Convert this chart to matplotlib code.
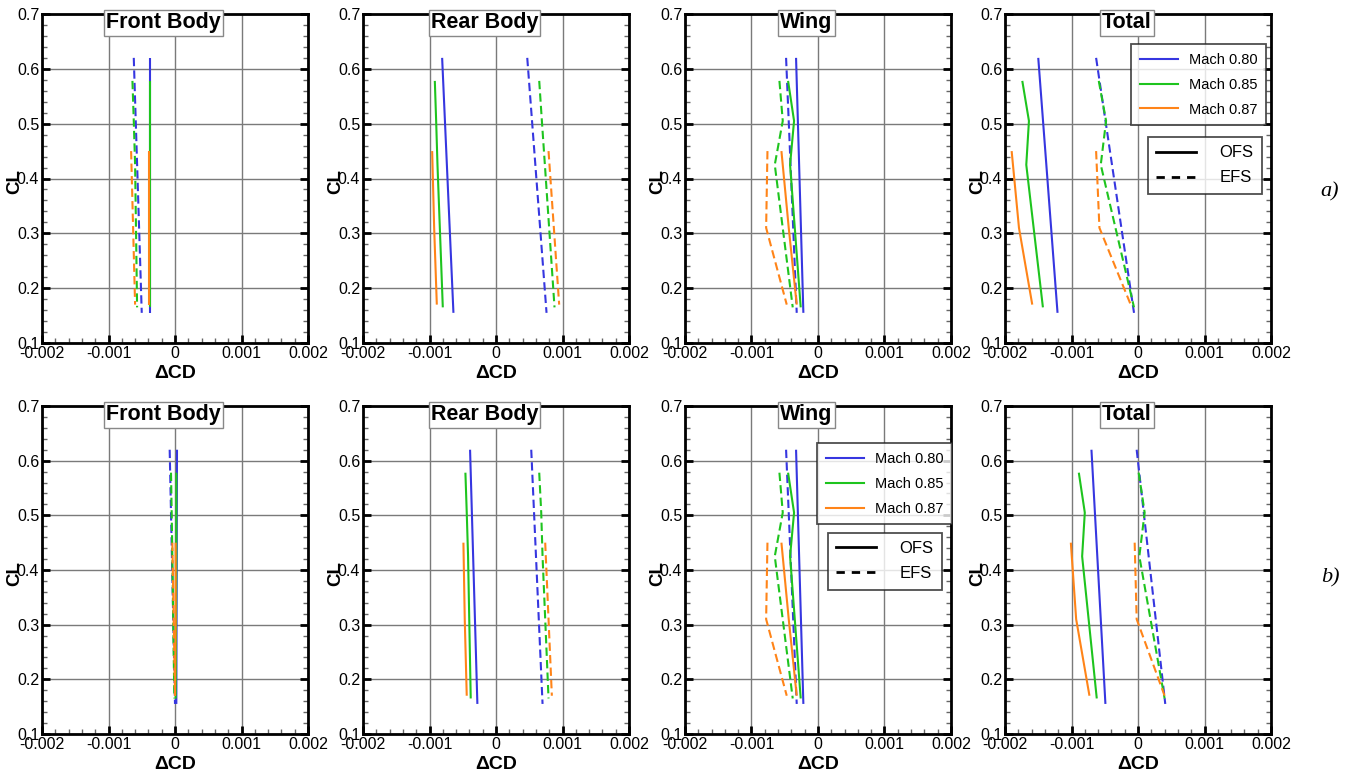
import matplotlib
matplotlib.use("Agg")
import matplotlib.pyplot as plt
from matplotlib.lines import Line2D
from matplotlib.ticker import MultipleLocator

plt.rcParams['font.family'] = ['Liberation Sans', 'DejaVu Sans']

# ---------------- data ----------------
MACH_LABELS = ["Mach 0.80", "Mach 0.85", "Mach 0.87"]
COLORS = ["#3636e0", "#1ec41e", "#ff8418"]
CL_M080 = [0.62, 0.155]
CL_M085 = [0.578, 0.505, 0.425, 0.165]
CL_M087 = [0.45, 0.31, 0.17]
CL_SETS = [CL_M080, CL_M085, CL_M087]

PANEL_TITLES = ["Front Body", "Rear Body", "Wing", "Total"]
ROW_TAGS = ["a)", "b)"]
XTICKS = [-0.002, -0.001, 0.0, 0.001, 0.002]
XTICK_LABELS = ["-0.002", "-0.001", "0", "0.001", "0.002"]
YTICKS = [0.1, 0.2, 0.3, 0.4, 0.5, 0.6, 0.7]
YTICK_LABELS = ["0.1", "0.2", "0.3", "0.4", "0.5", "0.6", "0.7"]

# Row a) -- each tuple: (Mach 0.80, Mach 0.85, Mach 0.87) dCD values
A_FRONT_OFS = ([-0.00037, -0.00037], [-0.00038, -0.00038, -0.00038, -0.00038], [-0.00039, -0.00039, -0.00039])
A_FRONT_EFS = ([-0.00062, -0.0005], [-0.00064, -0.00062, -0.0006, -0.00057], [-0.00066, -0.00063, -0.0006])
A_REAR_OFS = ([-0.00081, -0.00064], [-0.00092, -0.0009, -0.00088, -0.0008], [-0.00096, -0.00093, -0.00089])
A_REAR_EFS = ([0.00047, 0.00076], [0.00065, 0.00069, 0.000735, 0.00088], [0.00079, 0.00087, 0.00095])
A_WING_OFS = ([-0.00033, -0.00022], [-0.00045, -0.00036, -0.00042, -0.00026], [-0.00055, -0.00044, -0.00032])
A_WING_EFS = ([-0.00048, -0.00032], [-0.00058, -0.00053, -0.00065, -0.00038], [-0.00076, -0.00078, -0.00047])
A_TOTAL_OFS = ([-0.0015, -0.00121], [-0.00174, -0.00164, -0.00168, -0.00143], [-0.0019, -0.00179, -0.00159])
A_TOTAL_EFS = ([-0.00063, -0.00006], [-0.00059, -0.00048, -0.00056, -0.00006], [-0.00063, -0.00058, -0.00011])

# Row b)
B_FRONT_OFS = ([0.00003, 0.00002], [0.00002, 0.00002, 0.00002, 0.00001], [0.00001, 0.00001, 0.0])
B_FRONT_EFS = ([-0.00008, 0.0], [-0.00006, -0.00005, -0.00004, -0.00001], [-0.00004, -0.00002, 0.0])
B_REAR_OFS = ([-0.00039, -0.00028], [-0.00046, -0.00044, -0.00042, -0.00038], [-0.00049, -0.00047, -0.00044])
B_REAR_EFS = ([0.00053, 0.0007], [0.00065, 0.00068, 0.0007, 0.00079], [0.00074, 0.00079, 0.00084])
B_WING_OFS = ([-0.00033, -0.00022], [-0.00045, -0.00036, -0.00042, -0.00026], [-0.00055, -0.00044, -0.00032])
B_WING_EFS = ([-0.00048, -0.00032], [-0.00058, -0.00053, -0.00065, -0.00038], [-0.00076, -0.00078, -0.00047])
B_TOTAL_OFS = ([-0.0007, -0.00049], [-0.00089, -0.0008, -0.00084, -0.00062], [-0.00101, -0.00093, -0.00073])
B_TOTAL_EFS = ([-0.00002, 0.00041], [0.00001, 0.0001, 0.00002, 0.0004], [-0.00005, -0.00002, 0.0004])

ROWS = [
    [(A_FRONT_OFS, A_FRONT_EFS), (A_REAR_OFS, A_REAR_EFS), (A_WING_OFS, A_WING_EFS), (A_TOTAL_OFS, A_TOTAL_EFS)],
    [(B_FRONT_OFS, B_FRONT_EFS), (B_REAR_OFS, B_REAR_EFS), (B_WING_OFS, B_WING_EFS), (B_TOTAL_OFS, B_TOTAL_EFS)],
]

# ---------------- layout ----------------
W, H = 1359, 776
fig = plt.figure(figsize=(W / 100, H / 100), dpi=100)
lefts_px = [42, 363, 685, 1005]
width_px = 266
rows_px = [(14, 343), (406, 734)]
DASH = (0, (4, 2))

axes = []
for r, (top, bot) in enumerate(rows_px):
    row_axes = []
    for c, lpx in enumerate(lefts_px):
        ax = fig.add_axes([lpx / W, (H - bot) / H, width_px / W, (bot - top) / H])
        ax.set_xlim(-0.002, 0.002)
        ax.set_ylim(0.1, 0.7)
        ax.set_xticks(XTICKS)
        ax.set_xticklabels(XTICK_LABELS)
        ax.set_yticks(YTICKS)
        ax.set_yticklabels(YTICK_LABELS)
        ax.xaxis.set_minor_locator(MultipleLocator(0.0002))
        ax.yaxis.set_minor_locator(MultipleLocator(0.02))
        ax.tick_params(which='both', direction='in', left=True, right=True, top=False, bottom=True,
                       labelsize=11.5, pad=2)
        ax.tick_params(which='major', length=6, width=2, color='black')
        ax.tick_params(which='minor', length=3.5, width=1, color='#666666')
        for s in ax.spines.values():
            s.set_linewidth(2)
        ax.grid(True, which='major', color='#7a7a7a', lw=1)
        ax.set_axisbelow(True)

        ofs, efs = ROWS[r][c]
        for k in range(3):
            ax.plot(ofs[k], CL_SETS[k], color=COLORS[k], lw=1.5, solid_capstyle='butt')
            ax.plot(efs[k], CL_SETS[k], color=COLORS[k], lw=1.5, linestyle=DASH)

        ax.set_xlabel("ΔCD", fontsize=14, fontweight='bold')
        ax.xaxis.set_label_coords(0.5, -0.066)
        ax.set_ylabel("CL", fontsize=13.5, fontweight='bold')
        ax.yaxis.set_label_coords(-0.072, 0.49)

        ax.text(0.457, 0.973, PANEL_TITLES[c], transform=ax.transAxes, ha='center', va='center',
                fontsize=15.5, fontweight='bold', zorder=10,
                bbox=dict(boxstyle='square,pad=0.1', facecolor='white', edgecolor='#888888', lw=1))
        row_axes.append(ax)
    axes.append(row_axes)

mach_handles = [Line2D([], [], color=COLORS[k], lw=1.5) for k in range(3)]
fs_handles = [Line2D([], [], color='black', lw=2),
              Line2D([], [], color='black', lw=2, linestyle=(0, (3, 2.5)))]
FS_LABELS = ["OFS", "EFS"]


def add_legends(ax, mach_anchor, fs_anchor):
    leg1 = ax.legend(mach_handles, MACH_LABELS, loc='upper right', bbox_to_anchor=mach_anchor,
                     fontsize=10.5, frameon=True, fancybox=False, edgecolor='#222222',
                     handlelength=2.6, handletextpad=0.75, labelspacing=0.75, borderpad=0.6,
                     borderaxespad=0)
    leg1.get_frame().set_linewidth(1.3)
    ax.add_artist(leg1)
    leg2 = ax.legend(fs_handles, FS_LABELS, loc='upper right', bbox_to_anchor=fs_anchor,
                     fontsize=12, frameon=True, fancybox=False, edgecolor='#222222',
                     handlelength=2.4, handletextpad=1.4, labelspacing=0.6, borderpad=0.5,
                     borderaxespad=0)
    leg2.get_frame().set_linewidth(1.3)


add_legends(axes[0][3], (0.981, 0.909), (0.966, 0.626))
add_legends(axes[1][2], (1.004, 0.887), (0.966, 0.613))

fig.text(1330 / W, 1 - 192 / H, ROW_TAGS[0], fontsize=16, style='italic',
         family=['Liberation Serif', 'DejaVu Serif'], ha='center', va='center')
fig.text(1330 / W, 1 - 578 / H, ROW_TAGS[1], fontsize=16, style='italic',
         family=['Liberation Serif', 'DejaVu Serif'], ha='center', va='center')

fig.savefig("out.png", dpi=100)
